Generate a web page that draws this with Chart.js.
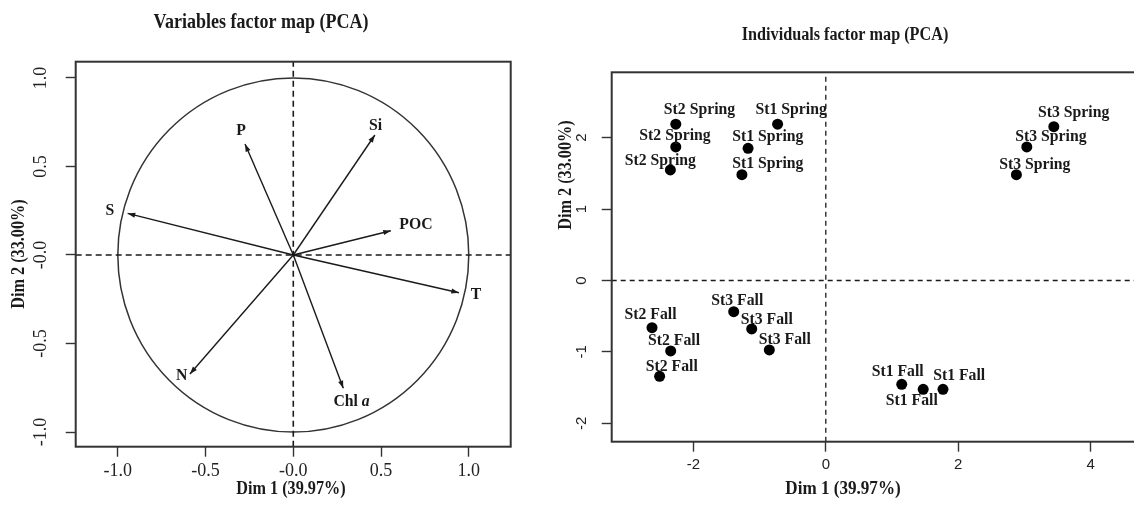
<!DOCTYPE html>
<html>
<head>
<meta charset="utf-8">
<script src="https://cdn.jsdelivr.net/npm/chart.js@4.4.1/dist/chart.umd.min.js"></script>
<style>
  html, body { margin: 0; padding: 0; background: #fff; overflow: hidden; width: 1134px; height: 509px; }
  #left { position: absolute; left: 0; top: 0; width: 520px; height: 509px; }
  #right { position: absolute; left: 545px; top: 0; width: 620px; height: 509px; }
</style>
</head>
<body>
<div id="left"><canvas id="varMap"></canvas></div>
<div id="right"><canvas id="indMap"></canvas></div>
<script>
// --- variables factor map (correlation circle) ---
const variableNames = ['Si', 'P', 'S', 'POC', 'T', 'Chl a', 'N'];
const varDim1 = [0.465, -0.275, -0.944, 0.556, 0.944, 0.285, -0.589];
const varDim2 = [0.678, 0.627, 0.235, 0.137, -0.213, -0.753, -0.672];
const varLabelDim1 = [0.469, -0.298, -1.045, 0.699, 1.041, 0.332, -0.636];
const varLabelDim2 = [0.734, 0.706, 0.25, 0.173, -0.222, -0.829, -0.678];
const varTicks = [-1, -0.5, 0, 0.5, 1];
const varTickLabels = ['-1.0', '-0.5', '-0.0', '0.5', '1.0'];

// --- individuals factor map ---
const individualNames = [
  'St2 Spring', 'St2 Spring', 'St2 Spring',
  'St1 Spring', 'St1 Spring', 'St1 Spring',
  'St3 Spring', 'St3 Spring', 'St3 Spring',
  'St2 Fall', 'St2 Fall', 'St2 Fall',
  'St3 Fall', 'St3 Fall', 'St3 Fall',
  'St1 Fall', 'St1 Fall', 'St1 Fall',
];
const indDim1 = [-2.266, -2.266, -2.348, -0.728, -1.174, -1.267, 3.444, 3.036, 2.879,
  -2.625, -2.343, -2.51, -1.391, -1.119, -0.853, 1.147, 1.471, 1.77];
const indDim2 = [2.19, 1.87, 1.548, 2.19, 1.851, 1.482, 2.154, 1.87, 1.482,
  -0.661, -0.987, -1.342, -0.437, -0.679, -0.973, -1.454, -1.524, -1.524];
const indLabelDim1 = [-1.908, -2.278, -2.5, -0.523, -0.876, -0.876, 3.743, 3.4, 3.157,
  -2.647, -2.293, -2.326, -1.337, -0.891, -0.619, 1.086, 1.298, 2.015];
const indLabelDim2 = [2.402, 2.038, 1.683, 2.402, 2.014, 1.636, 2.35, 2.014, 1.627,
  -0.479, -0.843, -1.202, -0.283, -0.553, -0.824, -1.277, -1.674, -1.324];
const indXTicks = [-2, 0, 2, 4];
const indYTicks = [-2, -1, 0, 1, 2];

const INK = '#1a1a1a';
const SERIF = 'Liberation Serif';
const SQUEEZE = 0.9; // the bold serif text in the figure is a little condensed

const frameBox = {
  id: 'frameBox',
  afterDatasetsDraw(chart, args, opts) {
    const { ctx, chartArea: a } = chart;
    ctx.save();
    ctx.strokeStyle = opts.color;
    ctx.lineWidth = opts.width;
    ctx.strokeRect(a.left, a.top, a.right - a.left, a.bottom - a.top);
    ctx.restore();
  },
};

const unitCircle = {
  id: 'unitCircle',
  beforeDatasetsDraw(chart, args, opts) {
    const { ctx, scales } = chart;
    const cx = scales.x.getPixelForValue(0);
    const cy = scales.y.getPixelForValue(0);
    const rx = scales.x.getPixelForValue(1) - cx;
    const ry = cy - scales.y.getPixelForValue(1);
    ctx.save();
    ctx.strokeStyle = opts.color;
    ctx.lineWidth = opts.width;
    ctx.beginPath();
    ctx.ellipse(cx, cy, rx, ry, 0, 0, Math.PI * 2);
    ctx.stroke();
    ctx.restore();
  },
};

const arrowHeads = {
  id: 'arrowHeads',
  afterDatasetsDraw(chart, args, opts) {
    const { ctx } = chart;
    chart.data.datasets.forEach((ds, i) => {
      if (!ds.isArrow) return;
      const [from, to] = chart.getDatasetMeta(i).data;
      const ang = Math.atan2(to.y - from.y, to.x - from.x);
      ctx.save();
      ctx.fillStyle = opts.color;
      ctx.beginPath();
      ctx.moveTo(to.x, to.y);
      ctx.lineTo(to.x - opts.length * Math.cos(ang - opts.spread), to.y - opts.length * Math.sin(ang - opts.spread));
      ctx.lineTo(to.x - opts.length * Math.cos(ang + opts.spread), to.y - opts.length * Math.sin(ang + opts.spread));
      ctx.closePath();
      ctx.fill();
      ctx.restore();
    });
  },
};

// draws bold serif text centred at (x, y), condensed horizontally
function boldText(ctx, text, x, y, size, rotate) {
  const plain = 'bold ' + size + 'px ' + SERIF;
  ctx.save();
  ctx.translate(x, y);
  ctx.rotate(rotate || 0);
  ctx.scale(SQUEEZE, 1);
  ctx.fillStyle = INK;
  ctx.textBaseline = 'middle';
  if (text === 'Chl a') {
    ctx.font = plain;
    const w1 = ctx.measureText('Chl ').width;
    ctx.font = 'italic ' + plain;
    const w2 = ctx.measureText('a').width;
    ctx.textAlign = 'left';
    ctx.font = plain;
    ctx.fillText('Chl ', -(w1 + w2) / 2, 0);
    ctx.font = 'italic ' + plain;
    ctx.fillText('a', -(w1 + w2) / 2 + w1, 0);
  } else {
    ctx.font = plain;
    ctx.textAlign = 'center';
    ctx.fillText(text, 0, 0);
  }
  ctx.restore();
}

const pointLabels = {
  id: 'pointLabels',
  afterDatasetsDraw(chart, args, opts) {
    const { ctx, scales } = chart;
    opts.names.forEach((name, i) => {
      boldText(ctx, name, scales.x.getPixelForValue(opts.xs[i]), scales.y.getPixelForValue(opts.ys[i]), opts.size);
    });
  },
};

const panelText = {
  id: 'panelText',
  afterDraw(chart, args, opts) {
    opts.items.forEach(t => boldText(chart.ctx, t.text, t.x, t.y, t.size, t.rotate));
  },
};

function zeroLines(xmin, xmax, ymin, ymax, width, dash) {
  const base = { type: 'line', borderColor: INK, borderWidth: width, borderDash: dash, pointRadius: 0 };
  return [
    { ...base, data: [{ x: xmin, y: 0 }, { x: xmax, y: 0 }] },
    { ...base, data: [{ x: 0, y: ymin }, { x: 0, y: ymax }] },
  ];
}

function axisStyle(ticks, labels, font, padding, vertical, size) {
  return {
    type: 'linear',
    afterBuildTicks: s => { s.ticks = ticks.map(v => ({ value: v })); },
    afterFit: s => { if (vertical) s.width = size; else s.height = size; },
    border: { display: false },
    grid: { drawOnChartArea: false, tickLength: 10, tickColor: '#333', tickWidth: 1.4 },
    ticks: {
      autoSkip: false,
      callback: v => labels[ticks.indexOf(v)],
      color: '#222',
      font: font,
      padding: padding,
      minRotation: vertical ? 90 : 0,
      maxRotation: vertical ? 90 : 0,
      crossAlign: 'center',
    },
  };
}

// left chart
const varXMin = -1.24, varXMax = 1.239, varYMin = -1.083, varYMax = 1.092;
const varDatasets = zeroLines(varXMin, varXMax, varYMin, varYMax, 1.6, [6, 4]);
variableNames.forEach((name, i) => {
  varDatasets.push({
    type: 'line',
    isArrow: true,
    data: [{ x: 0, y: 0 }, { x: varDim1[i], y: varDim2[i] }],
    borderColor: INK,
    borderWidth: 1.4,
    pointRadius: 0,
  });
});

new Chart(document.getElementById('varMap'), {
  type: 'scatter',
  data: { datasets: varDatasets },
  options: {
    responsive: true,
    maintainAspectRatio: false,
    animation: false,
    events: [],
    layout: { padding: { top: 61.7, right: 9.3, bottom: 0, left: 0 } },
    scales: {
      x: { ...axisStyle(varTicks, varTickLabels, { family: SERIF, size: 18 }, 15, false, 62.3), min: varXMin, max: varXMax },
      y: { ...axisStyle(varTicks, varTickLabels, { family: SERIF, size: 18 }, 9.7, true, 75.7), min: varYMin, max: varYMax },
    },
    plugins: {
      legend: { display: false },
      tooltip: { enabled: false },
      frameBox: { color: '#333', width: 2 },
      unitCircle: { color: '#333', width: 1.5 },
      arrowHeads: { color: INK, length: 8, spread: 0.33 },
      pointLabels: { names: variableNames, xs: varLabelDim1, ys: varLabelDim2, size: 17.5 },
      panelText: {
        items: [
          { text: 'Variables factor map (PCA)', x: 261, y: 23, size: 20 },
          { text: 'Dim 1 (39.97%)', x: 291, y: 489, size: 18 },
          { text: 'Dim 2 (33.00%)', x: 19, y: 254, size: 18, rotate: -Math.PI / 2 },
        ],
      },
    },
  },
  plugins: [unitCircle, frameBox, arrowHeads, pointLabels, panelText],
});

// right chart
const indXMin = -3.234, indXMax = 4.897, indYMin = -2.258, indYMax = 2.916;
const indDatasets = zeroLines(indXMin, indXMax, indYMin, indYMax, 1.3, [5, 4]);
indDatasets.push({
  type: 'scatter',
  data: indDim1.map((x, i) => ({ x: x, y: indDim2[i] })),
  backgroundColor: '#000',
  borderWidth: 0,
  pointRadius: 5.5,
});

new Chart(document.getElementById('indMap'), {
  type: 'scatter',
  data: { datasets: indDatasets },
  options: {
    responsive: true,
    maintainAspectRatio: false,
    animation: false,
    events: [],
    layout: { padding: { top: 72.3, right: 15, bottom: 0, left: 0 } },
    scales: {
      x: { ...axisStyle(indXTicks, indXTicks.map(String), { family: 'Liberation Sans', size: 15 }, 13, false, 67.3), min: indXMin, max: indXMax },
      y: { ...axisStyle(indYTicks, indYTicks.map(String), { family: 'Liberation Sans', size: 15 }, 13.2, true, 66.7), min: indYMin, max: indYMax },
    },
    plugins: {
      legend: { display: false },
      tooltip: { enabled: false },
      frameBox: { color: '#333', width: 2 },
      pointLabels: { names: individualNames, xs: indLabelDim1, ys: indLabelDim2, size: 17.5 },
      panelText: {
        items: [
          { text: 'Individuals factor map (PCA)', x: 300, y: 35, size: 18 },
          { text: 'Dim 1 (39.97%)', x: 298, y: 489, size: 19 },
          { text: 'Dim 2 (33.00%)', x: 21, y: 175, size: 18, rotate: -Math.PI / 2 },
        ],
      },
    },
  },
  plugins: [frameBox, pointLabels, panelText],
});
</script>
</body>
</html>
